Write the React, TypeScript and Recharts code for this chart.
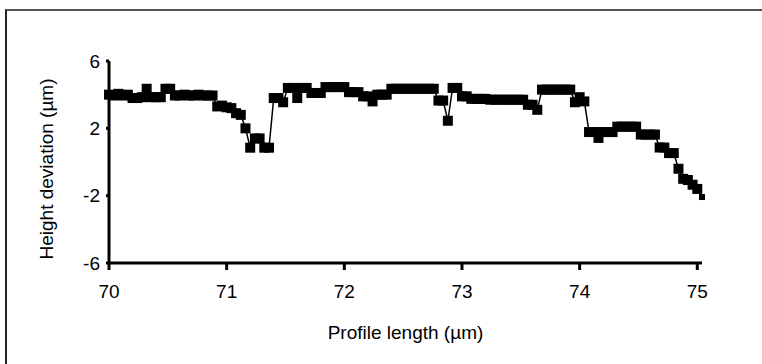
import React from "react";
import { LineChart, Line, XAxis, YAxis } from "recharts";

// Profile position along the scan (µm), sampled every 0.04 µm
const profileLength = [
  70.0, 70.04, 70.08, 70.12, 70.16, 70.2, 70.24, 70.28, 70.32, 70.36,
  70.4, 70.44, 70.48, 70.52, 70.56, 70.6, 70.64, 70.68, 70.72, 70.76,
  70.8, 70.84, 70.88, 70.92, 70.96, 71.0, 71.04, 71.08, 71.12, 71.16,
  71.2, 71.24, 71.28, 71.32, 71.36, 71.4, 71.44, 71.48, 71.52, 71.56,
  71.6, 71.64, 71.68, 71.72, 71.76, 71.8, 71.84, 71.88, 71.92, 71.96,
  72.0, 72.04, 72.08, 72.12, 72.16, 72.2, 72.24, 72.28, 72.32, 72.36,
  72.4, 72.44, 72.48, 72.52, 72.56, 72.6, 72.64, 72.68, 72.72, 72.76,
  72.8, 72.84, 72.88, 72.92, 72.96, 73.0, 73.04, 73.08, 73.12, 73.16,
  73.2, 73.24, 73.28, 73.32, 73.36, 73.4, 73.44, 73.48, 73.52, 73.56,
  73.6, 73.64, 73.68, 73.72, 73.76, 73.8, 73.84, 73.88, 73.92, 73.96,
  74.0, 74.04, 74.08, 74.12, 74.16, 74.2, 74.24, 74.28, 74.32, 74.36,
  74.4, 74.44, 74.48, 74.52, 74.56, 74.6, 74.64, 74.68, 74.72, 74.76,
  74.8, 74.84, 74.88, 74.92, 74.96, 75.0, 75.04,
];

// Measured height deviation (µm) at each position
const heightDeviation = [
  4.0, 3.95, 4.05, 3.95, 4.0, 3.8, 3.8, 3.85, 4.35, 3.85,
  3.85, 3.85, 4.35, 4.35, 3.95, 3.95, 4.0, 3.95, 3.95, 4.0,
  3.95, 3.95, 3.95, 3.3, 3.35, 3.25, 3.2, 2.9, 2.8, 2.0,
  0.85, 1.4, 1.4, 0.85, 0.85, 3.8, 3.8, 3.55, 4.4, 4.4,
  3.8, 4.4, 4.4, 4.1, 4.1, 4.1, 4.45, 4.45, 4.45, 4.45,
  4.45, 4.15, 4.15, 4.15, 3.9, 3.9, 3.6, 4.0, 4.0, 4.0,
  4.35, 4.35, 4.35, 4.35, 4.35, 4.35, 4.35, 4.35, 4.35, 4.35,
  3.65, 3.65, 2.45, 4.4, 4.4, 3.9, 3.9, 3.75, 3.75, 3.75,
  3.75, 3.7, 3.7, 3.7, 3.7, 3.7, 3.7, 3.7, 3.7, 3.4,
  3.4, 3.1, 4.3, 4.3, 4.3, 4.3, 4.3, 4.3, 4.3, 3.55,
  3.85, 3.6, 1.78, 1.78, 1.43, 1.78, 1.78, 1.78, 2.1, 2.1,
  2.1, 2.1, 2.1, 1.63, 1.63, 1.63, 1.63, 0.86, 0.86, 0.53,
  0.53, -0.4, -1.0, -1.07, -1.35, -1.6, -2.08,
];

const xTicks = [70, 71, 72, 73, 74, 75];
const yTicks = [-6, -2, 2, 6];

const data = profileLength.map((x, i) => ({ x, y: heightDeviation[i] }));

const font = "'Liberation Sans', Arial, sans-serif";
const tickStyle = { fill: "#000", fontSize: 19, fontFamily: font };

// square marker, like a spreadsheet line-with-markers series
const SquareDot = (props: any) => {
  const { cx, cy, index } = props;
  if (cx == null || cy == null) return null;
  const s = index === profileLength.length - 1 ? 6 : 10;
  return <rect key={`sq-${index}`} x={cx - s / 2} y={cy - s / 2} width={s} height={s} fill="#000" />;
};

// rotated y-axis title, centred a little below the plot middle
const YTitle = () => (
  <text
    x={46}
    y={169}
    transform="rotate(-90, 46, 169)"
    textAnchor="middle"
    dominantBaseline="central"
    fill="#000"
    fontSize={19}
    fontFamily={font}
  >
    Height deviation (µm)
  </text>
);

export default function App() {
  return (
    <div
      style={{
        position: "absolute",
        left: 0,
        top: 0,
        width: 762,
        height: 364,
        background: "#fff",
        overflow: "hidden",
      }}
    >
      {/* frame: only top and left edges are visible */}
      <div
        style={{
          position: "absolute",
          left: 5,
          top: 9,
          width: 800,
          height: 400,
          borderTop: "2px solid #555",
          borderLeft: "2px solid #222",
        }}
      />
      <div style={{ position: "absolute", left: 0, top: 0 }}>
        <LineChart width={762} height={364} data={data} margin={{ top: 61, right: 60, bottom: 0, left: 0 }}>
          <XAxis
            dataKey="x"
            type="number"
            domain={[70, 75]}
            ticks={xTicks}
            height={101}
            axisLine={{ stroke: "#000", strokeWidth: 3 }}
            tickLine={{ stroke: "#000", strokeWidth: 3 }}
            tickSize={7}
            tickMargin={15}
            tick={tickStyle}
            label={{
              value: "Profile length (µm)",
              position: "insideBottom",
              offset: 25,
              style: { fill: "#000", fontSize: 19, fontFamily: font },
            }}
          />
          <YAxis
            type="number"
            domain={[-6, 6]}
            ticks={yTicks}
            width={109}
            axisLine={{ stroke: "#000", strokeWidth: 3 }}
            tickLine={{ stroke: "#000", strokeWidth: 3 }}
            tickSize={3}
            tickMargin={6}
            tick={tickStyle}
            label={YTitle}
          />
          <Line
            type="linear"
            dataKey="y"
            stroke="#000"
            strokeWidth={1.5}
            dot={SquareDot}
            activeDot={false}
            isAnimationActive={false}
          />
        </LineChart>
      </div>
    </div>
  );
}
